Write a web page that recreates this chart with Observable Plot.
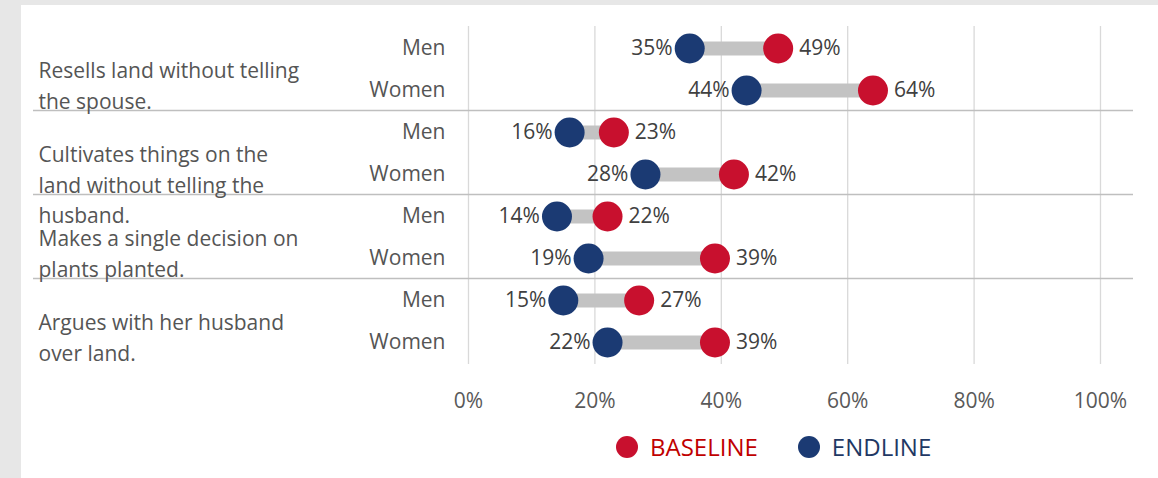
<!DOCTYPE html>
<html>
<head>
<meta charset="utf-8">
<script src="https://cdn.jsdelivr.net/npm/d3@7"></script>
<script src="https://cdn.jsdelivr.net/npm/@observablehq/plot@0.6"></script>
<style>
  html, body { margin: 0; padding: 0; background: #e7e7e7; width: 1158px; height: 478px; overflow: hidden; }
  #panel { position: absolute; left: 21px; top: 5px; width: 1137px; height: 473px; background: #fff; font-family: "Open Sans", Lato, sans-serif; }
  #chart { position: absolute; left: 0; top: 0; }
  #legend { position: absolute; left: 595px; top: 425px; display: flex; align-items: center; font-size: 24px; }
  .sw { width: 22px; height: 22px; border-radius: 50%; display: inline-block; margin-right: 12px; }
</style>
</head>
<body>
<div id="panel">
  <div id="chart"></div>
  <div id="legend">
    <span class="sw" style="background:#c8102e"></span><span style="color:#c00000;margin-right:40px">BASELINE</span>
    <span class="sw" style="background:#1b3a73"></span><span style="color:#1f3864">ENDLINE</span>
  </div>
</div>
<script>
const groups = [
  "Resells land without telling\nthe spouse.",
  "Cultivates things on the\nland without telling the\nhusband.",
  "Makes a single decision on\nplants planted.",
  "Argues with her husband\nover land."
];
const genders = ["Men", "Women"];
const baseline = [49, 64, 23, 42, 22, 39, 27, 39];
const endline  = [35, 44, 16, 28, 14, 19, 15, 22];
const xTicks = [0, 20, 40, 60, 80, 100];

const rows = [];
groups.forEach((g, gi) => genders.forEach((s, si) => {
  const i = gi * 2 + si;
  rows.push({key: `${gi}|${s}`, group: g, gi, gender: s, base: baseline[i], end: endline[i]});
}));
const keys = rows.map(d => d.key);
const menRows = rows.filter(d => d.gender === "Men");
const sepRows = menRows.filter(d => d.gi > 0);

const RED = "#c8102e", BLUE = "#1b3a73", TXT = "#404040", LBL = "#555555";
const FONT = "'Open Sans', Lato, sans-serif";

const chart = Plot.plot({
  width: 1137,
  height: 420,
  marginLeft: 447,
  marginRight: 58,
  marginTop: 21,
  marginBottom: 61,
  style: {fontFamily: FONT, fontSize: "22px", color: TXT, background: "transparent"},
  x: {domain: [0, 100], ticks: xTicks, tickFormat: d => d + "%", label: null},
  y: {type: "band", domain: keys, padding: 0, label: null},
  marks: [
    Plot.ruleX(xTicks, {stroke: "#d9d9d9", strokeWidth: 1.3}),
    Plot.ruleY(sepRows, {y: "key", dy: -22, stroke: "#bfbfbf", strokeWidth: 1.3, insetLeft: -435, insetRight: -33}),
    Plot.axisX({ticks: xTicks, tickFormat: d => d + "%", tickSize: 0, tickPadding: 29, fontSize: 21, fill: "#595959", label: null}),
    Plot.axisY({tickSize: 0, tickPadding: 23, tickFormat: d => d.split("|")[1], fontSize: 21, fill: LBL, label: null}),
    Plot.text(menRows, {y: "key", text: "group", frameAnchor: "left", dx: -430, dy: 8, textAnchor: "start", lineAnchor: "top", lineHeight: 1.45, fontSize: 21, fill: LBL}),
    Plot.ruleY(rows, {y: "key", x1: "end", x2: "base", stroke: "#c3c3c3", strokeWidth: 14}),
    Plot.dot(rows, {y: "key", x: "base", r: 15, fill: RED}),
    Plot.dot(rows, {y: "key", x: "end", r: 15, fill: BLUE}),
    Plot.text(rows, {y: "key", x: "end", text: d => d.end + "%", dx: -17, textAnchor: "end", fontSize: 21, fill: TXT}),
    Plot.text(rows, {y: "key", x: "base", text: d => d.base + "%", dx: 21, textAnchor: "start", fontSize: 21, fill: TXT})
  ]
});
document.getElementById("chart").appendChild(chart);
</script>
</body>
</html>
